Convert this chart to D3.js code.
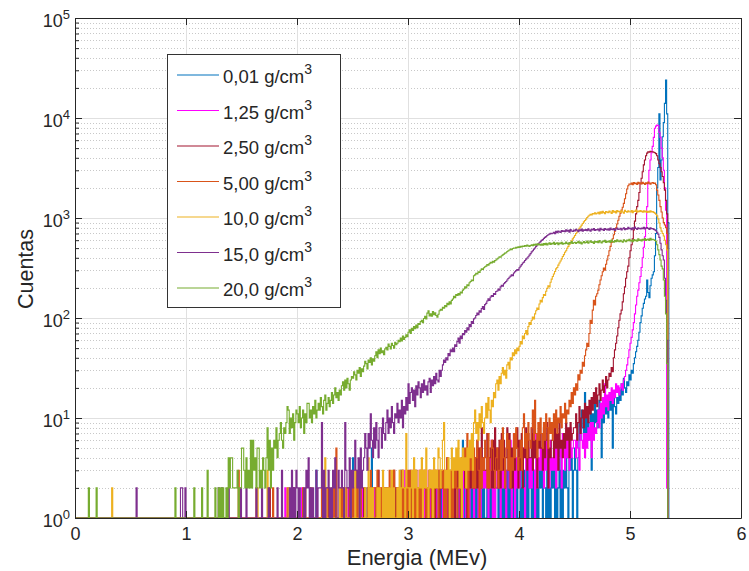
<!DOCTYPE html>
<html>
<head>
<meta charset="utf-8">
<script src="https://cdn.jsdelivr.net/npm/d3@7"></script>
<style>
  body { margin: 0; background: #fff; }
  svg { display: block; }
  text { font-family: "Liberation Sans", Arial, Helvetica, sans-serif; fill: #262626; }
</style>
</head>
<body>
<svg id="chart" width="749" height="571"></svg>
<script>
// Alpha spectra after absorbers of different density, 0.01 MeV bins from 0 MeV.
// Each spectrum: a low-count part written one digit per bin, followed by the counts array.
const binWidth = 0.01;

const densityLabels = ["0,01", "1,25", "2,50", "5,00", "10,0", "15,0", "20,0"];
const seriesColors = ["#0072BD", "#FF00FF", "#A2142F", "#D95319", "#EDB120", "#7E2F8E", "#77AC30"];

const yMajorTicks = [1, 10, 100, 1000, 10000, 100000];
const yExponents = ["0", "1", "2", "3", "4", "5"];
const xTicks = [0, 1, 2, 3, 4, 5, 6];

// 0,01 g/cm3
const low001 = `
1111111111 1111111111 1111111111 1111111111 1111111111 1111111111 1111111111 1111111111 1111111111 1111111111
1111111111 1111111111 1111111111 1111111111 1111111111 1111111111 1111111111 1111111111 1111111111 1111112111
1111111111 1111111311 1111111111 1121111111 1111111121 4111112111 1112112511 1111211121 1211112111 2113111211
1211121112 1121211211 2112111213 1211211121 2121131216 4121213121 2131212131 1213121312 2121312131 3121413121
1312131413 2141312132 3132141213 2413125131 3242153413`;
const high001 = [
  5, 3, 1, 4, 9, 6, 12, 8, 5, 18,
  7, 10, 6, 9, 13, 3, 11, 8, 14, 9,
  12, 8, 15, 10, 4, 13, 9, 16, 11, 14,
  10, 17, 12, 15, 5, 18, 13, 11, 16, 14,
  19, 15, 22, 17, 25, 20, 18, 23, 21, 27,
  24, 30, 28, 35, 40, 46, 52, 60, 72, 90,
  105, 125, 140, 155, 165, 240, 180, 160, 210, 250,
  270, 290, 420, 700, 2000, 3200, 11000, 2400, 3800, 6500,
  9000, 14000, 24000, 11000, 900
];

// 1,25 g/cm3
const low125 = `
1111111111 1111111111 1111111111 1111111111 1111111111 1111111111 1111111111 1111111111 1111111111 1111111111
1111111111 1111111111 1111111111 1111111111 1111111111 1111111111 1111111111 1111111111 1111111112 1111111111
1111211111 1111111111 1111111211 1112111111 1111112111 1211111121 1111211112 1121112111 2112112121 1212121312
2121312121 3121213212 1231212312 2132131223 1213231321 3212413231 2321314232 3214261312 4251524213 3261371423
2435216352 4263172435 3527364263 4362734527 5364638456 6475386574 7586949687`;
const high125 = [
  9, 12, 8, 14, 10, 16, 11, 22, 13, 17,
  12, 18, 15, 20, 14, 19, 16, 22, 18, 21,
  17, 20, 22, 19, 24, 26, 30, 34, 40, 48,
  56, 64, 76, 90, 110, 135, 165, 190, 225, 260,
  320, 400, 510, 650, 800, 1300, 2200, 3000, 3800, 4500,
  5200, 6400, 7900, 8300, 8500, 8400, 7200, 6400, 5000, 4000,
  3000, 2000, 1200, 2
];

// 2,50 g/cm3
const low250 = `
1111111111 1111111111 1111111111 1111111111 1111111111 1111111111 1111111111 1111111111 1111111111 1111111111
1111111111 1111111111 1111111111 1111111111 1111111111 1111111111 1111111111 1111121111 1111111111 1111111211
1111111111 1121111111 1111111121 1111211111 1211111211 1112113111 2111212121 1213111212 2121211312 1212131212
2131212312 1312321213 2123132312 3213241232 2312323143 3231423232 4262528343 3724526283 5262736248 3725263582
6372548374 4837462657 5384692546 6485739564 7596849678`;
const high250 = [
  8, 11, 6, 9, 13, 7, 10, 12, 8, 14,
  10, 13, 9, 15, 11, 16, 12, 18, 14, 20,
  13, 17, 22, 15, 19, 24, 18, 21, 26, 20,
  24, 28, 26, 32, 29, 40, 48, 56, 66, 80,
  95, 110, 120, 145, 175, 205, 250, 290, 330, 400,
  470, 540, 620, 760, 930, 1100, 1300, 1500, 1800, 2200,
  2500, 2900, 3400, 3800, 4200, 4450, 4600, 4550, 4650, 4600,
  4600, 4550, 4500, 4400, 4200, 3800, 3500, 3200, 2900, 2600,
  2250, 1900, 1500, 1100
];

// 5,00 g/cm3
const low500 = `
1111111111 1111111111 1111111111 1111111111 1111111111 1111111111 1111111111 1111111111 1111111111 1111111111
1111111111 1111111111 1111111111 1111111111 1111111311 1111111111 1112111111 1111111121 1111111111 1211111111
1111121111 1111111111 1121111211 1112151112 1211211121 2113121211 1211213112 2131212121 1213121311 2121312213
1312213121 2131231213 3121322132 2312142313 1323123214 3527143625 2463152436 4272365324 5236384257 3624374853`;
const high500 = [
  4, 6, 3, 8, 11, 5, 7, 4, 9, 6,
  5, 8, 12, 6, 15, 7, 4, 9, 6, 10,
  7, 5, 9, 6, 11, 8, 5, 10, 7, 9,
  6, 11, 8, 12, 7, 10, 9, 13, 8, 11,
  10, 14, 9, 12, 11, 15, 13, 18, 14, 20,
  17, 22, 19, 27, 24, 30, 28, 36, 33, 42,
  48, 56, 52, 70, 95, 88, 120, 150, 135, 165,
  175, 190, 215, 240, 265, 290, 315, 300, 345, 380,
  420, 470, 520, 570, 620, 680, 740, 800, 870, 950,
  1040, 1120, 1200, 1280, 1400, 1560, 1750, 1950, 2100, 2180,
  2180, 2230, 2150, 2260, 2200, 2240, 2170, 2280, 2210, 2250,
  2190, 2270, 2220, 2160, 2250, 2200, 2290, 2230, 2180, 2240,
  2260, 2210, 2240, 2150, 1900, 1700, 1500, 1300, 1150, 1000,
  900, 850, 800, 700
];

// 10,0 g/cm3
const low1000 = `
1111111111 1111111111 1111111111 1112111111 1111111111 1111111111 1111111111 1111111111 1111111111 1111111111
1111111111 1111111111 1111111111 1111111111 1111111111 1111111111 1111211111 1113111111 1111111111 1121111111
1111111211 1112111111 1111142111 1211111121 1112111121 1131112111 1211412121 1121211312 1212131211 2131232172
2123142312 3241325213 2314232542 3692324135 2435362415 3425364739`;
const high1000 = [
  12, 7, 9, 6, 11, 8, 13, 9, 7, 10,
  14, 10, 16, 12, 9, 15, 13, 18, 16, 22,
  24, 19, 26, 22, 28, 32, 27, 30, 25, 34,
  36, 31, 40, 38, 45, 42, 48, 44, 50, 47,
  52, 58, 55, 66, 62, 70, 75, 68, 82, 90,
  86, 95, 102, 98, 110, 118, 126, 122, 138, 150,
  145, 160, 172, 168, 185, 198, 210, 205, 228, 245,
  260, 275, 292, 310, 320, 338, 355, 372, 390, 412,
  430, 455, 470, 498, 520, 545, 568, 590, 618, 642,
  668, 700, 725, 758, 790, 815, 848, 880, 915, 945,
  975, 1010, 1040, 1065, 1090, 1075, 1110, 1095, 1125, 1100,
  1115, 1140, 1098, 1155, 1120, 1170, 1132, 1105, 1160, 1145,
  1128, 1175, 1150, 1112, 1185, 1140, 1165, 1125, 1190, 1158,
  1170, 1135, 1182, 1150, 1120, 1195, 1162, 1140, 1178, 1155,
  1148, 1185, 1130, 1172, 1160, 1198, 1142, 1176, 1155, 1190,
  1165, 1140, 1182, 1150, 1175, 1135, 1168, 1145, 1180, 1152,
  1160, 1138, 1120, 1090, 1050, 980, 890, 800, 740, 700,
  660, 600, 540, 480
];

// 15,0 g/cm3
const low1500 = `
1111111111 1111111111 1111111111 1111111111 1111111111 1111121111 1111111111 1111111111 1111111111 1111122112
1111111111 1111111111 1111111112 1121111121 1111111112 1111211111 1112111121 1111211111 1121113111 1112131213
2121112132 4121211312 2291312231 2132411322 3219322413 2363241523`;
const high1500 = [
  4, 7, 5, 3, 7, 5, 11, 6, 4, 8,
  5, 9, 6, 4, 8, 8, 5, 10, 7, 6,
  9, 12, 7, 10, 8, 13, 9, 7, 11, 10,
  14, 9, 12, 10, 15, 8, 13, 11, 16, 12,
  22, 14, 18, 20, 15, 19, 13, 21, 17, 23,
  20, 16, 22, 18, 24, 19, 21, 17, 23, 25,
  18, 24, 21, 26, 22, 28, 24, 23, 30, 26,
  30, 34, 38, 36, 40, 38, 44, 42, 48, 46,
  50, 46, 54, 52, 58, 63, 56, 66, 62, 70,
  68, 75, 72, 80, 76, 86, 82, 92, 88, 98,
  100, 106, 112, 108, 118, 114, 124, 130, 122, 136,
  140, 148, 156, 150, 162, 168, 164, 176, 172, 184,
  186, 195, 190, 205, 212, 208, 220, 226, 232, 240,
  248, 256, 262, 270, 265, 282, 290, 298, 305, 300,
  318, 330, 342, 355, 362, 376, 388, 398, 410, 425,
  440, 458, 470, 488, 502, 520, 538, 552, 565, 580,
  598, 610, 625, 640, 652, 668, 680, 690, 702, 695,
  705, 720, 698, 735, 712, 740, 726, 718, 750, 732,
  745, 728, 760, 738, 752, 722, 768, 741, 735, 758,
  742, 770, 755, 731, 762, 748, 775, 739, 760, 752,
  768, 745, 780, 756, 740, 772, 761, 785, 750, 766,
  758, 776, 744, 790, 762, 771, 752, 783, 768, 760,
  778, 755, 792, 770, 762, 786, 749, 775, 795, 768,
  772, 790, 760, 782, 798, 766, 784, 771, 805, 780,
  788, 765, 796, 778, 810, 784, 770, 800, 786, 775,
  795, 782, 808, 776, 790, 802, 785, 770, 798, 780,
  785, 770, 760, 745, 720, 690, 640, 560, 480, 420,
  380, 250, 150, 60
];

// 20,0 g/cm3
const low2000 = `
1111111111 1121111112 1111111111 1111111111 1111111111 1111111111 1111111111 1111111111 1111111111 2111111111
1111111211 1111211113 1111112112 1212112142 4422223122 5532423262 6342552324 3248362536`;
const high2000 = [
  5, 8, 4, 6, 7, 9, 6, 5, 8, 7,
  9, 13, 12, 7, 10, 8, 11, 6, 9, 12,
  11, 9, 13, 8, 10, 12, 7, 11, 9, 14,
  14, 10, 12, 9, 13, 11, 15, 10, 12, 14,
  12, 16, 13, 11, 15, 17, 12, 14, 16, 13,
  15, 18, 14, 17, 20, 16, 18, 15, 19, 17,
  21, 23, 19, 24, 20, 25, 22, 19, 24, 26,
  25, 29, 27, 24, 30, 28, 32, 26, 31, 29,
  33, 37, 35, 31, 38, 36, 40, 34, 39, 37,
  42, 46, 40, 48, 44, 50, 45, 47, 43, 49,
  51, 48, 55, 52, 49, 56, 53, 50, 57, 54,
  56, 60, 58, 63, 59, 66, 61, 64, 68, 65,
  72, 76, 70, 79, 75, 82, 78, 85, 80, 88,
  86, 92, 95, 90, 99, 104, 98, 112, 118, 105,
  110, 104, 116, 108, 113, 106, 102, 109, 118, 122,
  120, 128, 125, 133, 130, 140, 136, 145, 138, 150,
  155, 165, 160, 172, 168, 176, 170, 182, 178, 190,
  195, 205, 200, 215, 210, 225, 232, 240, 236, 265,
  270, 280, 276, 290, 285, 300, 310, 305, 318, 325,
  330, 342, 338, 350, 360, 355, 368, 362, 375, 380,
  390, 398, 410, 405, 420, 428, 435, 445, 450, 462,
  470, 478, 488, 482, 495, 502, 498, 510, 505, 515,
  508, 520, 512, 525, 518, 530, 522, 535, 526, 520,
  530, 540, 528, 545, 535, 548, 538, 552, 542, 536,
  548, 535, 556, 542, 560, 538, 551, 565, 544, 557,
  549, 570, 545, 558, 566, 540, 562, 553, 571, 548,
  560, 552, 575, 558, 546, 568, 561, 580, 555, 566,
  572, 556, 569, 585, 560, 574, 551, 566, 582, 563,
  570, 588, 561, 576, 592, 568, 579, 558, 586, 573,
  581, 566, 594, 575, 563, 589, 578, 598, 570, 585,
  576, 592, 569, 601, 583, 574, 596, 580, 604, 587,
  578, 599, 585, 572, 606, 590, 581, 603, 592, 614,
  588, 598, 580, 610, 593, 602, 585, 618, 596, 605,
  590, 612, 600, 622, 595, 608, 615, 598, 625, 606,
  612, 605, 598, 585, 540, 480, 430, 380, 330, 310,
  240, 165, 110, 35
];

function spectrum(low, high) {
  const digits = low.replace(/\s+/g, "").split("").map(Number);
  return digits.concat(high);
}

const spectra = [
  spectrum(low001, high001),
  spectrum(low125, high125),
  spectrum(low250, high250),
  spectrum(low500, high500),
  spectrum(low1000, high1000),
  spectrum(low1500, high1500),
  spectrum(low2000, high2000)
];

const svg = d3.select("#chart");
const margin = { left: 75, right: 741, top: 18, bottom: 518 };

const x = d3.scaleLinear().domain([0, 6]).range([margin.left, margin.right]);
const y = d3.scaleLog().domain([1, 1e5]).range([margin.bottom, margin.top]);

const plotW = margin.right - margin.left;
const plotH = margin.bottom - margin.top;

// minor log values 2..9 per decade
const yMinor = [];
for (let d = 0; d < 5; d++) for (let k = 2; k <= 9; k++) yMinor.push(k * Math.pow(10, d));

// grid
const gridMinor = svg.append("g")
  .attr("transform", `translate(${margin.left},0)`)
  .call(d3.axisLeft(y).tickValues(yMinor).tickSize(-plotW).tickFormat(""));
gridMinor.select(".domain").remove();
gridMinor.selectAll("line").attr("stroke", "#c8c8c8").attr("stroke-dasharray", "1,2").attr("shape-rendering", "crispEdges");

const gridY = svg.append("g")
  .attr("transform", `translate(${margin.left},0)`)
  .call(d3.axisLeft(y).tickValues([10, 100, 1000, 10000]).tickSize(-plotW).tickFormat(""));
gridY.select(".domain").remove();
gridY.selectAll("line").attr("stroke", "#e0e0e0").attr("shape-rendering", "crispEdges");

const gridX = svg.append("g")
  .attr("transform", `translate(0,${margin.bottom})`)
  .call(d3.axisBottom(x).tickValues([1, 2, 3, 4, 5]).tickSize(-plotH).tickFormat(""));
gridX.select(".domain").remove();
gridX.selectAll("line").attr("stroke", "#e0e0e0").attr("shape-rendering", "crispEdges");

// spectra
svg.append("clipPath").attr("id", "plotClip")
  .append("rect").attr("x", margin.left).attr("y", margin.top - 1)
  .attr("width", plotW).attr("height", plotH + 2);

const line = d3.line()
  .x(d => x(d[0]))
  .y(d => y(Math.max(d[1], 1)))
  .curve(d3.curveStepAfter);

const plotG = svg.append("g").attr("clip-path", "url(#plotClip)");
spectra.forEach((counts, s) => {
  const pts = counts.map((c, i) => [i * binWidth, c]);
  const end = counts.length * binWidth;
  pts.push([end, counts[counts.length - 1]]);
  pts.push([end, 1]);
  plotG.append("path")
    .attr("d", line(pts))
    .attr("fill", "none")
    .attr("stroke", seriesColors[s])
    .attr("stroke-width", 1.1)
    .attr("stroke-linejoin", "miter");
});

// axes
const axisColor = "#262626";
function styleAxis(g) {
  g.attr("font-family", null).attr("font-size", null);
  g.selectAll(".domain").attr("stroke", axisColor);
  g.selectAll("line").attr("stroke", axisColor);
}

const leftAxis = svg.append("g")
  .attr("transform", `translate(${margin.left},0)`)
  .call(d3.axisLeft(y).tickValues(yMajorTicks).tickSizeInner(-7).tickSizeOuter(0).tickPadding(5).tickFormat(() => "10"));
styleAxis(leftAxis);
leftAxis.selectAll("text")
  .attr("font-size", 18)
  .attr("dy", "0.45em")
  .each(function(d, i) {
    d3.select(this).append("tspan")
      .attr("font-size", 13)
      .attr("dy", -8)
      .text(yExponents[i]);
  });

const leftMinor = svg.append("g")
  .attr("transform", `translate(${margin.left},0)`)
  .call(d3.axisLeft(y).tickValues(yMinor).tickSizeInner(-4).tickSizeOuter(0).tickFormat(""));
styleAxis(leftMinor);

const rightAxis = svg.append("g")
  .attr("transform", `translate(${margin.right},0)`)
  .call(d3.axisRight(y).tickValues(yMajorTicks).tickSizeInner(-7).tickSizeOuter(0).tickFormat(""));
styleAxis(rightAxis);

const bottomAxis = svg.append("g")
  .attr("transform", `translate(0,${margin.bottom})`)
  .call(d3.axisBottom(x).tickValues(xTicks).tickSizeInner(-7).tickSizeOuter(0).tickPadding(9).tickFormat(d3.format("d")));
styleAxis(bottomAxis);
bottomAxis.selectAll("text").attr("font-size", 18);

const topAxis = svg.append("g")
  .attr("transform", `translate(0,${margin.top})`)
  .call(d3.axisTop(x).tickValues(xTicks).tickSizeInner(-7).tickSizeOuter(0).tickFormat(""));
styleAxis(topAxis);

// axis titles
svg.append("text")
  .attr("x", 417).attr("y", 565)
  .attr("text-anchor", "middle")
  .attr("font-size", 22)
  .text("Energia (MEv)");

svg.append("text")
  .attr("transform", "translate(33,269) rotate(-90)")
  .attr("text-anchor", "middle")
  .attr("font-size", 21.5)
  .text("Cuentas");

// legend
const legend = svg.append("g");
legend.append("rect")
  .attr("x", 167.5).attr("y", 54.5).attr("width", 173).attr("height", 253)
  .attr("fill", "#fff").attr("stroke", "#333").attr("stroke-width", 1);

densityLabels.forEach((lab, i) => {
  const yy = 75 + i * 35.5;
  legend.append("line")
    .attr("x1", 177).attr("x2", 219).attr("y1", yy).attr("y2", yy)
    .attr("stroke", seriesColors[i]).attr("stroke-width", 1.1);
  const t = legend.append("text")
    .attr("x", 223).attr("y", yy + 8)
    .attr("font-size", 18.5);
  t.append("tspan").text(lab + " g/cm");
  t.append("tspan").attr("font-size", 14).attr("dx", 0).attr("dy", -9).text("3");
});
</script>
</body>
</html>
